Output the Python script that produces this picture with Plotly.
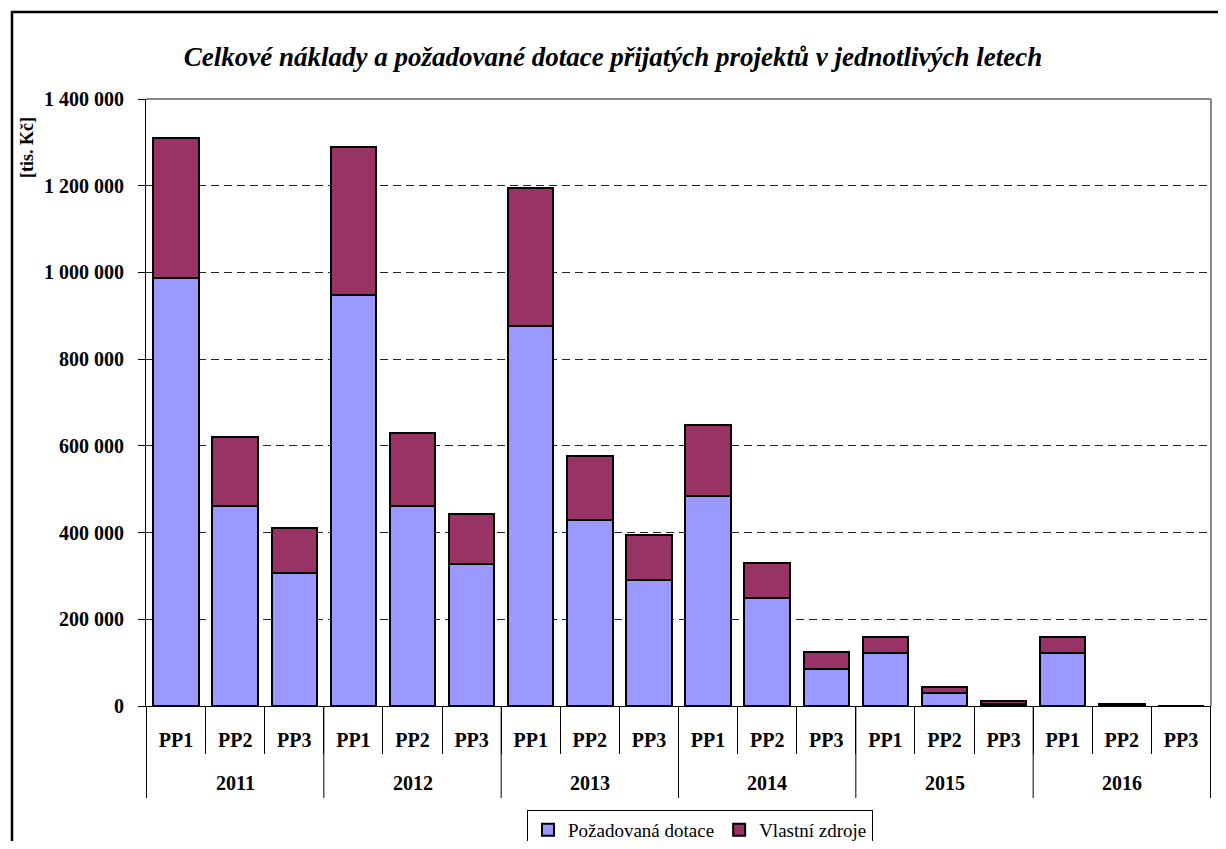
import plotly.graph_objects as go

years = ["2011", "2012", "2013", "2014", "2015", "2016"]
programs = ["PP1", "PP2", "PP3"]

# values in tis. Kč, ordered year by year, PP1..PP3
pozadovana_dotace = [988000, 461000, 307000,
                     948000, 461000, 327000,
                     876000, 429000, 290000,
                     485000, 249000, 86500,
                     123000, 31000, 5500,
                     123000, 2500, 0]
celkove_naklady = [1311000, 621000, 410000,
                   1290000, 629000, 442000,
                   1195000, 577000, 395000,
                   649000, 330000, 124000,
                   160000, 44000, 11600,
                   160000, 3900, 0]
vlastni_zdroje = [c - d for c, d in zip(celkove_naklady, pozadovana_dotace)]

title_text = "Celkové náklady a požadované dotace přijatých projektů v jednotlivých letech"
y_title = "[tis. Kč]"
series_names = ["Požadovaná dotace", "Vlastní zdroje"]

keys = [f"{y} {p}" for y in years for p in programs]
inner_labels = [p for _ in years for p in programs]

FONT = "Times New Roman, Liberation Serif, serif"
OFF = 8  # page body margin
W, H = 1210, 833
L, R, T, B = 146 - OFF, 7, 99 - OFF, 833 - (706 - OFF)
pw, ph = W - L - R, H - T - B

def px(sx):  # screen x -> paper
    return (sx - 146) / pw

def py(sy):  # screen y -> paper
    return (706 - sy) / ph

fig = go.Figure()
fig.add_trace(go.Bar(x=keys, y=pozadovana_dotace, name=series_names[0],
                     marker=dict(color="#9999FF", line=dict(color="black", width=2))))
fig.add_trace(go.Bar(x=keys, y=vlastni_zdroje, name=series_names[1],
                     marker=dict(color="#993366", line=dict(color="black", width=2))))

fig.update_layout(
    width=W, height=H,
    barmode="stack", bargap=0.23,
    margin=dict(l=L, r=R, t=T, b=B, autoexpand=False),
    paper_bgcolor="white", plot_bgcolor="white",
    separators=", ",
    font=dict(family=FONT, color="black"),
    title=dict(text="<b><i>" + title_text + "</i></b>", x=(613 - OFF) / W, xref="container",
               y=1 - (57 - OFF) / H, yref="container", xanchor="center", yanchor="middle",
               font=dict(family=FONT, size=27, color="black")),
    legend=dict(orientation="h", x=px(700), xanchor="center", y=py(810), yanchor="top",
                bordercolor="black", borderwidth=1, bgcolor="white",
                font=dict(family=FONT, size=19, color="black"),
                traceorder="normal", tracegroupgap=0),
    showlegend=True,
)

fig.update_yaxes(range=[0, 1400000], dtick=200000, tickformat=",d",
                 showline=True, linecolor="black", linewidth=1,
                 ticks="outside", ticklen=7, tickcolor="black",
                 ticklabelstandoff=10,
                 tickfont=dict(family=FONT, size=20, color="black", weight="bold"),
                 showgrid=True, gridcolor="#222", gridwidth=1, griddash="8px,5px",
                 zeroline=False, fixedrange=True)

fig.update_xaxes(type="category", categoryorder="array", categoryarray=keys,
                 tickmode="array", tickvals=keys, ticktext=inner_labels,
                 showline=True, linecolor="black", linewidth=1,
                 ticks="outside", tickson="boundaries", ticklen=47, tickcolor="black",
                 ticklabelstandoff=16,
                 tickfont=dict(family=FONT, size=20, color="black", weight="bold"),
                 showgrid=False, zeroline=False)

# year labels and long year dividers
n = len(programs)
for i, yr in enumerate(years):
    fig.add_annotation(text="<b>" + yr + "</b>", xref="x", yref="paper",
                       x=keys[i * n + n // 2], y=py(783), showarrow=False,
                       xanchor="center", yanchor="middle",
                       font=dict(family=FONT, size=20, color="black"))
for i in range(len(years) + 1):
    fig.add_shape(type="line", xref="x", yref="paper", x0=i * n - 0.5, x1=i * n - 0.5,
                  y0=0, y1=py(798), line=dict(color="black", width=1))

# plot area grey border top / right
fig.add_shape(type="line", xref="paper", yref="paper", x0=0, x1=1, y0=1, y1=1,
              line=dict(color="#888", width=2))
fig.add_shape(type="line", xref="paper", yref="paper", x0=1, x1=1, y0=0, y1=1,
              line=dict(color="#888", width=2))
# outer chart frame
fig.add_shape(type="rect", xref="paper", yref="paper", x0=px(12), x1=px(1250),
              y0=py(880), y1=py(12), line=dict(color="black", width=2.5),
              fillcolor="rgba(0,0,0,0)", layer="below")

fig.add_annotation(text="<b>" + y_title + "</b>", xref="paper", yref="paper",
                   x=px(27), y=py(148), textangle=-90, showarrow=False,
                   xanchor="center", yanchor="middle",
                   font=dict(family=FONT, size=18, color="black"))

fig.write_html("out.html")
